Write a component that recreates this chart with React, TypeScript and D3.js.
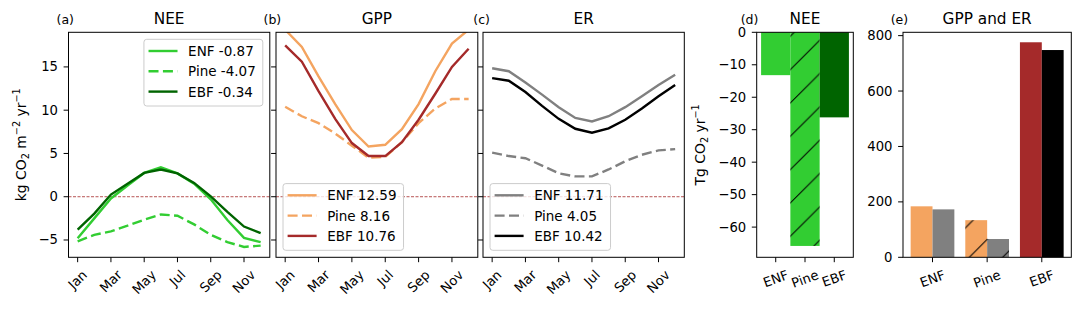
import React from 'react'
import * as d3 from 'd3'

const months = ['Jan', 'Feb', 'Mar', 'Apr', 'May', 'Jun', 'Jul', 'Aug', 'Sep', 'Oct', 'Nov', 'Dec']
const monthTickIdx = [0, 2, 4, 6, 8, 10]
const pfts = ['ENF', 'Pine', 'EBF']

// monthly fluxes, kg CO2 m-2 yr-1
const neeENF = [-4.8, -2.5, -0.2, 1.3, 2.75, 3.4, 2.7, 1.5, -0.3, -2.7, -4.75, -5.25]
const neePine = [-5.15, -4.4, -4.0, -3.35, -2.65, -2.05, -2.2, -3.2, -4.4, -5.25, -5.8, -5.65]
const neeEBF = [-3.8, -1.95, 0.25, 1.5, 2.75, 3.15, 2.7, 1.6, 0.05, -1.75, -3.45, -4.2]
const gppENF = [19.3, 17.3, 13.9, 10.7, 7.7, 5.8, 6.0, 7.8, 10.7, 14.5, 17.7, 19.3]
const gppPine = [10.4, 9.3, 8.5, 7.3, 5.9, 4.5, 4.6, 6.3, 8.5, 10.2, 11.3, 11.3]
const gppEBF = [17.5, 15.6, 12.2, 9.0, 6.2, 4.7, 4.7, 6.3, 8.9, 11.9, 15.0, 17.1]
const erENF = [14.85, 14.5, 13.2, 11.8, 10.35, 9.1, 8.7, 9.3, 10.35, 11.6, 12.9, 14.1]
const erPine = [5.1, 4.7, 4.45, 3.6, 2.7, 2.35, 2.35, 3.15, 4.1, 4.85, 5.35, 5.5]
const erEBF = [13.7, 13.4, 12.1, 10.5, 9.0, 7.85, 7.4, 7.9, 8.9, 10.2, 11.6, 12.9]

// annual means shown in legends
const neeMeans = [-0.87, -4.07, -0.34]
const gppMeans = [12.59, 8.16, 10.76]
const erMeans = [11.71, 4.05, 10.42]

// regional totals, Tg CO2 yr-1
const neeTotals = [-13.2, -65.8, -26.2]
const gppTotals = [184, 134, 776]
const erTotals = [173, 66, 748]

const lineTicks = [-5, 0, 5, 10, 15]
const neeBarTicks = [0, -10, -20, -30, -40, -50, -60]
const fluxBarTicks = [0, 200, 400, 600, 800]

const neeColors = ['limegreen', 'limegreen', 'darkgreen']
const gppColors = ['sandybrown', 'sandybrown', 'brown']
const erColors = ['gray', 'gray', 'black']

const TOP = 32.3
const BOTTOM = 257.3
const TICK = 4.9
const TICK_FS = 13.2
const TAG_FS = 12.5
const LEG_FS = 13.5
const TITLE_FS = 15.3
const LABEL_FS = 13.9
const HATCH = 33.33

let measureCtx: CanvasRenderingContext2D | null = null
const textWidth = (s: string, size: number) => {
  if (!measureCtx) measureCtx = document.createElement('canvas').getContext('2d')
  if (!measureCtx) return s.length * size * 0.6
  measureCtx.font = `${size}px "DejaVu Sans"`
  return measureCtx.measureText(s).width
}

const fmt = d3.format('d')

const RotLabel = ({ x, top, text, angle }: { x: number, top: number, text: string, angle: number }) => {
  const w = textWidth(text, TICK_FS)
  const h = TICK_FS * 1.17
  const r = angle * Math.PI / 180
  const H = w * Math.sin(r) + h * Math.cos(r)
  return (
    <text transform={`translate(${x},${top + H / 2}) rotate(${-angle})`}
      textAnchor='middle' dominantBaseline='central' fontSize={TICK_FS}>{text}</text>
  )
}

const YAxis = ({ left, y, ticks, labels }: any) => (
  <g>
    {ticks.map((t: number) => (
      <g key={t}>
        <line x1={left - TICK} x2={left} y1={y(t)} y2={y(t)} stroke='#000' strokeWidth={1} />
        {labels && <text x={left - 10.5} y={y(t)} textAnchor='end' dominantBaseline='central'
          fontSize={TICK_FS}>{fmt(t)}</text>}
      </g>
    ))}
  </g>
)

const Header = ({ left, right, title, tag, tagX }: any) => (
  <g>
    <text x={(left + right) / 2} y={24} textAnchor='middle' fontSize={TITLE_FS}>{title}</text>
    <text x={tagX} y={23.5} fontSize={TAG_FS}>{tag}</text>
    <rect x={left} y={TOP} width={right - left} height={BOTTOM - TOP} fill='none' stroke='#000' strokeWidth={1} />
  </g>
)

const LinePanel = ({ id, left, right, title, tag, tagX, series, colors, means, legendAt, yLabels }: any) => {
  const x = d3.scaleLinear().domain([-0.55, 11.55]).range([left, right])
  const y = d3.scaleLinear().domain([-7, 19]).range([BOTTOM, TOP])
  const line = d3.line<number>().x((_, i) => x(i)).y(d => y(d))
  const labels = pfts.map((p, i) => `${p} ${means[i].toFixed(2)}`)
  const tw = d3.max(labels, l => textWidth(l, LEG_FS)) || 0
  const lw = 4.6 + 29 + 10.6 + tw + 7
  const lh = 66.7
  const lx = legendAt === 'ur' ? right - 7 - lw : left + 7
  const ly = legendAt === 'ur' ? TOP + 7 : BOTTOM - 7 - lh
  return (
    <g>
      <defs>
        <clipPath id={`clip-${id}`}>
          <rect x={left} y={TOP} width={right - left} height={BOTTOM - TOP} />
        </clipPath>
      </defs>
      <line x1={left} x2={right} y1={y(0)} y2={y(0)} stroke='brown' strokeWidth={0.8} strokeDasharray='3,1.5' />
      <g clipPath={`url(#clip-${id})`}>
        {series.map((s: number[], i: number) => (
          <path key={i} d={line(s) || ''} fill='none' stroke={colors[i]} strokeWidth={2.4}
            strokeDasharray={i === 1 ? '10,4.4' : undefined} />
        ))}
      </g>
      <rect x={lx} y={ly} width={lw} height={lh} rx={2.8} fill='#fff' fillOpacity={0.8} stroke='#cccccc' strokeWidth={1} />
      {labels.map((l, i) => {
        const ry = ly + 11.7 + i * 20.3
        return (
          <g key={l}>
            <line x1={lx + 4.6} x2={lx + 33.6} y1={ry} y2={ry} stroke={colors[i]} strokeWidth={2.4}
              strokeDasharray={i === 1 ? '10,4.4' : undefined} />
            <text x={lx + 44.2} y={ry} dominantBaseline='central' fontSize={LEG_FS}>{l}</text>
          </g>
        )
      })}
      <YAxis left={left} y={y} ticks={lineTicks} labels={yLabels} />
      {monthTickIdx.map(i => (
        <g key={i}>
          <line x1={x(i)} x2={x(i)} y1={BOTTOM} y2={BOTTOM + TICK} stroke='#000' strokeWidth={1} />
          <RotLabel x={x(i)} top={BOTTOM + TICK + 4.9} text={months[i]} angle={45} />
        </g>
      ))}
      <Header left={left} right={right} title={title} tag={tag} tagX={tagX} />
    </g>
  )
}

const NeeBars = () => {
  const left = 756.7, right = 853.3
  const x = d3.scaleLinear().domain([-0.65, 2.65]).range([left, right])
  const y = d3.scaleLinear().domain([-69.3, 0]).range([BOTTOM, TOP])
  return (
    <g>
      {neeTotals.map((v, i) => (
        <g key={i}>
          <rect x={x(i - 0.5)} y={y(0)} width={x(i + 0.5) - x(i - 0.5)} height={y(v) - y(0)} fill={neeColors[i]} />
          {i === 1 && <rect x={x(i - 0.5)} y={y(0)} width={x(i + 0.5) - x(i - 0.5)} height={y(v) - y(0)} fill='url(#hatch)' />}
        </g>
      ))}
      <YAxis left={left} y={y} ticks={neeBarTicks} labels />
      {pfts.map((p, i) => (
        <g key={p}>
          <line x1={x(i)} x2={x(i)} y1={BOTTOM} y2={BOTTOM + TICK} stroke='#000' strokeWidth={1} />
          <RotLabel x={x(i)} top={BOTTOM + TICK + 4.9} text={p} angle={20} />
        </g>
      ))}
      <text transform={`translate(704.5,${(TOP + BOTTOM) / 2}) rotate(-90)`} textAnchor='middle' fontSize={LABEL_FS}>
        Tg CO<tspan dy={3} fontSize={9.7}>2</tspan><tspan dy={-3}> yr</tspan><tspan dy={-5.5} fontSize={9.7}>−1</tspan>
      </text>
      <Header left={left} right={right} title='NEE' tag='(d)' tagX={740.7} />
    </g>
  )
}

const FluxBars = () => {
  const left = 903, right = 1071.3
  const x = d3.scaleLinear().domain([-0.54, 2.54]).range([left, right])
  const y = d3.scaleLinear().domain([0, 812]).range([BOTTOM, TOP])
  const bw = 0.4
  const bars = pfts.flatMap((p, i) => [
    { key: `g${p}`, x0: i - bw, v: gppTotals[i], c: gppColors[i], h: i === 1 },
    { key: `e${p}`, x0: i, v: erTotals[i], c: erColors[i], h: i === 1 },
  ])
  return (
    <g>
      {bars.map(b => (
        <g key={b.key}>
          <rect x={x(b.x0)} y={y(b.v)} width={x(b.x0 + bw) - x(b.x0)} height={y(0) - y(b.v)} fill={b.c} />
          {b.h && <rect x={x(b.x0)} y={y(b.v)} width={x(b.x0 + bw) - x(b.x0)} height={y(0) - y(b.v)} fill='url(#hatch)' />}
        </g>
      ))}
      <YAxis left={left} y={y} ticks={fluxBarTicks} labels />
      {pfts.map((p, i) => (
        <g key={p}>
          <line x1={x(i)} x2={x(i)} y1={BOTTOM} y2={BOTTOM + TICK} stroke='#000' strokeWidth={1} />
          <RotLabel x={x(i)} top={BOTTOM + TICK + 4.9} text={p} angle={20} />
        </g>
      ))}
      <Header left={left} right={right} title='GPP and ER' tag='(e)' tagX={890.7} />
    </g>
  )
}

const App = () => {
  const c = 26.7
  const hatchLines = [-1, 0, 1].map(k => {
    const s = c + k * HATCH
    return `M${-2},${s + 2}L${HATCH + 2},${s - HATCH - 2}`
  }).join('')
  return (
    <svg width={1084} height={309} viewBox='0 0 1084 309'
      style={{ position: 'absolute', left: 0, top: 0, display: 'block', background: '#fff' }}
      fontFamily='DejaVu Sans'>
      <defs>
        <pattern id='hatch' patternUnits='userSpaceOnUse' x={0} y={0} width={HATCH} height={HATCH}>
          <path d={hatchLines} stroke='#000' strokeWidth={1} fill='none' />
        </pattern>
      </defs>
      <rect width={1084} height={309} fill='#fff' />
      <LinePanel id='a' left={68.5} right={269.8} title='NEE' tag='(a)' tagX={56.5}
        series={[neeENF, neePine, neeEBF]} colors={neeColors} means={neeMeans} legendAt='ur' yLabels />
      <LinePanel id='b' left={276} right={477.8} title='GPP' tag='(b)' tagX={263.5}
        series={[gppENF, gppPine, gppEBF]} colors={gppColors} means={gppMeans} legendAt='ll' yLabels={false} />
      <LinePanel id='c' left={483} right={684.3} title='ER' tag='(c)' tagX={473.3}
        series={[erENF, erPine, erEBF]} colors={erColors} means={erMeans} legendAt='ll' yLabels={false} />
      <text transform={`translate(25.5,${(TOP + BOTTOM) / 2}) rotate(-90)`} textAnchor='middle' fontSize={LABEL_FS}>
        kg CO<tspan dy={3} fontSize={9.7}>2</tspan><tspan dy={-3}> m</tspan><tspan dy={-5.5} fontSize={9.7}>−2</tspan>
        <tspan dy={5.5}> yr</tspan><tspan dy={-5.5} fontSize={9.7}>−1</tspan>
      </text>
      <NeeBars />
      <FluxBars />
    </svg>
  )
}

export default App
